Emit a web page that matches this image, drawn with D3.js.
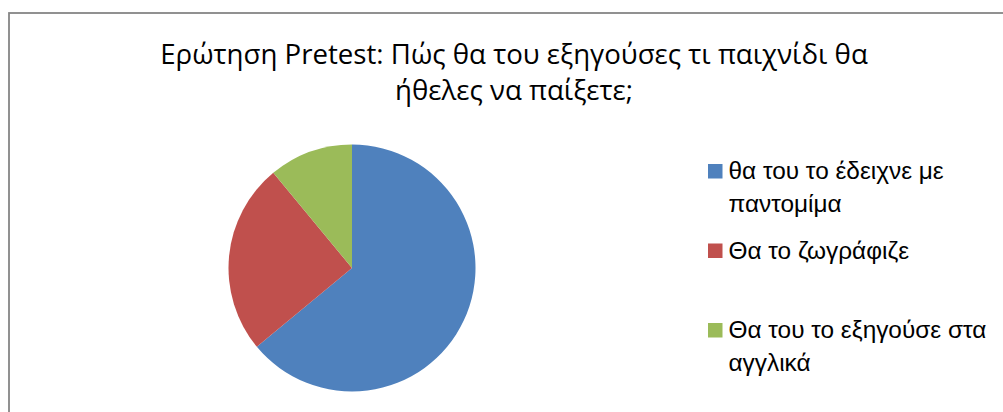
<!DOCTYPE html>
<html>
<head>
<meta charset="utf-8">
<script src="https://cdn.jsdelivr.net/npm/d3@7"></script>
<style>
  html, body { margin: 0; padding: 0; background: #fff; overflow: hidden; }
  svg { display: block; }
</style>
</head>
<body>
<svg width="1003" height="412"></svg>
<script>
// chart data
var titleLines = ["Ερώτηση Pretest: Πώς θα του εξηγούσες τι παιχνίδι θα", "ήθελες να παίξετε;"];
var labels = ["θα του το έδειχνε με παντομίμα", "Θα το ζωγράφιζε", "Θα του το εξηγούσε στα αγγλικά"];
var values = [64, 25, 11];
var colors = ["#4F81BD", "#C0504D", "#9BBB59"];

var svg = d3.select("svg"),
    width = +svg.attr("width"),
    height = +svg.attr("height");

// chart frame (right and bottom edges fall outside the picture)
svg.append("rect")
    .attr("x", 9).attr("y", 13)
    .attr("width", width + 20).attr("height", height + 20)
    .attr("fill", "#fff")
    .attr("stroke", "#868686")
    .attr("stroke-width", 1.8);

// title, fitted to the width of the original first line
var title = svg.append("g").attr("class", "title");
var titleSize = 30;
title.selectAll("text")
    .data(titleLines)
  .enter().append("text")
    .attr("x", 514)
    .attr("y", function(d, i) { return 64 + i * 36; })
    .attr("text-anchor", "middle")
    .style("font-family", "'Open Sans', 'Noto Sans', sans-serif")
    .style("font-size", titleSize + "px")
    .style("fill", "#000")
    .text(function(d) { return d; });
var w0 = title.select("text").node().getComputedTextLength();
titleSize = titleSize * 708 / w0;
title.selectAll("text").style("font-size", titleSize + "px");

// pie
var cx = 352, cy = 268, radius = 123.5;

var pie = d3.pie().sort(null).value(function(d) { return d; });
var arc = d3.arc().innerRadius(0).outerRadius(radius);

svg.append("g")
    .attr("transform", "translate(" + cx + "," + cy + ")")
  .selectAll("path")
    .data(pie(values))
  .enter().append("path")
    .attr("d", arc)
    .attr("fill", function(d, i) { return colors[i]; });

// legend
var legendX = 708, legendTop = 179, legendStep = 79.5, lineH = 33;
var textX = 20.5, maxLineW = 258;   // widest wrapped line in the original

// the original legend font runs a little wider than Arial, so stretch it
var probe = svg.append("text")
    .style("font-family", "'Liberation Sans', Arial, sans-serif")
    .style("font-size", "23px")
    .text("Θα του το εξηγούσε στα");
var sx = maxLineW / probe.node().getComputedTextLength();
probe.remove();
var wrapW = (maxLineW + 4) / sx;

var legend = svg.append("g").attr("class", "legend");
var item = legend.selectAll("g")
    .data(labels)
  .enter().append("g")
    .attr("transform", function(d, i) { return "translate(" + legendX + "," + (legendTop + i * legendStep) + ")"; });

item.append("rect")
    .attr("x", 0).attr("y", -15)
    .attr("width", 14.5).attr("height", 14.5)
    .attr("fill", function(d, i) { return colors[i]; });

item.append("text")
    .attr("transform", "translate(" + textX + ",0) scale(" + sx + ",1)")
    .style("font-family", "'Liberation Sans', Arial, sans-serif")
    .style("font-size", "23px")
    .style("fill", "#000")
    .each(function(d) {
      var text = d3.select(this),
          words = d.split(" "),
          line = [],
          tspan = text.append("tspan").attr("x", 0).attr("dy", 0);
      words.forEach(function(w) {
        line.push(w);
        tspan.text(line.join(" "));
        if (tspan.node().getComputedTextLength() > wrapW && line.length > 1) {
          line.pop();
          tspan.text(line.join(" "));
          line = [w];
          tspan = text.append("tspan").attr("x", 0).attr("dy", lineH).text(w);
        }
      });
    });
</script>
</body>
</html>
